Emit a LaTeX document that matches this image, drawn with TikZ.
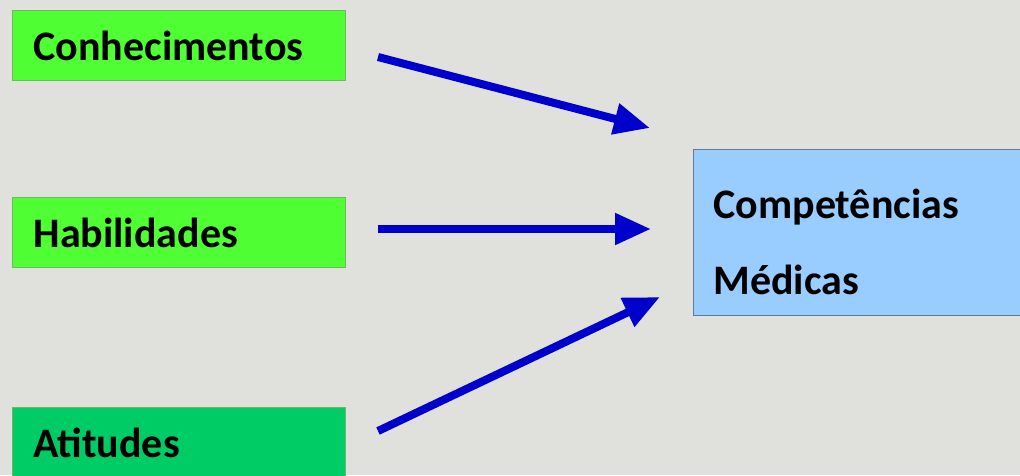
\documentclass[tikz,border=0pt]{standalone}
\usepackage{fontspec}
\setmainfont{Carlito}
\usetikzlibrary{arrows.meta}
\definecolor{bgrey}{HTML}{E0E0DC}
\definecolor{lgreen}{HTML}{50FF33}
\definecolor{dgreen}{HTML}{00CC66}
\definecolor{lblue}{HTML}{99CCFF}
\definecolor{arrblue}{HTML}{0000CC}
\tikzset{
  box/.style={fill=#1, draw=lgreen!60!black!70, line width=1pt, anchor=north west,
    minimum height=70pt, text width=291pt, inner xsep=21pt, align=left,
    font=\fontsize{42}{50}\selectfont\bfseries},
  goal/.style={draw=lblue!60!black, line width=1pt, fill=lblue, anchor=north west,
    minimum height=166pt, text width=300pt, inner xsep=20pt, align=left,
    font=\fontsize{42}{76}\selectfont\bfseries},
  flow/.style={arrblue, line width=8pt, -{Triangle[length=36pt,width=30pt]}}
}
\begin{document}
\begin{tikzpicture}[x=1pt, y=-1pt]
  \useasboundingbox (0,0) rectangle (1020,475);
  \clip (0,0) rectangle (1020,475);
  \fill[bgrey] (0,0) rectangle (1020,475);
  % boxes
  \node[box=lgreen] (con) at (12,10) {Conhecimentos};
  \node[box=lgreen] (hab) at (12,197) {Habilidades};
  \node[box=dgreen] (ati) at (12,407) {Atitudes};
  \node[goal] (comp) at (693,149) {\rule{0pt}{48pt}Competências\\Médicas};
  % arrows
  \coordinate (c1) at (378,57);  \coordinate (t1) at (650,128);
  \coordinate (c2) at (378,229); \coordinate (t2) at (651,229);
  \coordinate (c3) at (378,431); \coordinate (t3) at (660,297);
  \draw[flow] (c1) -- (t1);
  \draw[flow] (c2) -- (t2);
  \draw[flow] (c3) -- (t3);
\end{tikzpicture}
\end{document}
